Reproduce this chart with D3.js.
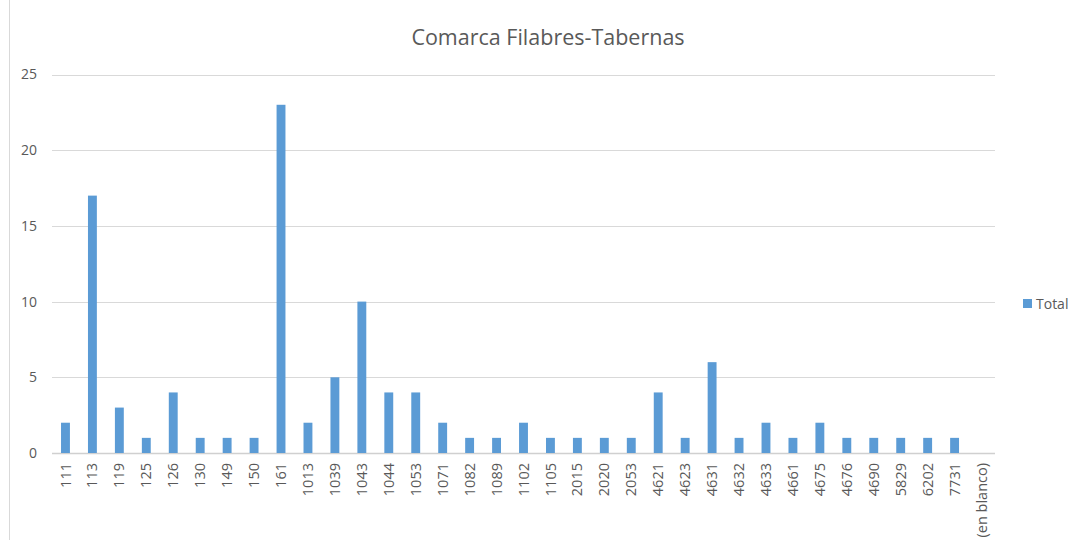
<!DOCTYPE html>
<html>
<head>
<meta charset="utf-8">
<script src="https://cdn.jsdelivr.net/npm/d3@7"></script>
<style>
  body { margin: 0; background: #fff; }
  svg { display: block; font-family: "Open Sans", "Noto Sans", sans-serif; }
</style>
</head>
<body>
<script>
const width = 1076;
const height = 540;

const categories = ["111", "113", "119", "125", "126", "130", "149", "150", "161", "1013",
  "1039", "1043", "1044", "1053", "1071", "1082", "1089", "1102", "1105", "2015",
  "2020", "2053", "4621", "4623", "4631", "4632", "4633", "4661", "4675", "4676",
  "4690", "5829", "6202", "7731", "(en blanco)"];
const totals = [2, 17, 3, 1, 4, 1, 1, 1, 23, 2,
  5, 10, 4, 4, 2, 1, 1, 2, 1, 1,
  1, 1, 4, 1, 6, 1, 2, 1, 2, 1,
  1, 1, 1, 1, null];
const yTicks = [0, 5, 10, 15, 20, 25];

const margin = {left: 52, right: 81, top: 75, bottom: 87};

const svg = d3.select("body").append("svg")
  .attr("width", width)
  .attr("height", height);

// chart area border on the left
svg.append("line")
  .attr("x1", 9.5).attr("x2", 9.5)
  .attr("y1", 0).attr("y2", height)
  .attr("stroke", "#d9d9d9");

const x = d3.scaleBand()
  .domain(categories)
  .range([margin.left, width - margin.right])
  .paddingInner(0.67)
  .paddingOuter(0.335);

const y = d3.scaleLinear()
  .domain([0, 25])
  .range([height - margin.bottom, margin.top - 0.5]);

// gridlines
svg.append("g")
  .selectAll("line")
  .data(yTicks)
  .enter()
  .append("line")
    .attr("x1", margin.left)
    .attr("x2", width - margin.right)
    .attr("y1", d => Math.round(y(d)) + 0.5)
    .attr("y2", d => Math.round(y(d)) + 0.5)
    .attr("stroke", d => d === 0 ? "#d0d0d0" : "#d9d9d9")
    .attr("stroke-width", d => d === 0 ? 1.5 : 1);

// y labels
svg.append("g")
  .selectAll("text")
  .data(yTicks)
  .enter()
  .append("text")
    .text(d => d)
    .attr("x", 37)
    .attr("y", d => y(d))
    .attr("dy", "0.35em")
    .attr("text-anchor", "end")
    .attr("font-size", 14)
    .attr("fill", "#595959");

// bars
svg.append("g")
  .selectAll("rect")
  .data(categories.map((c, i) => ({c: c, v: totals[i]})).filter(d => d.v != null))
  .enter()
  .append("rect")
    .attr("x", d => x(d.c))
    .attr("y", d => y(d.v))
    .attr("width", x.bandwidth())
    .attr("height", d => y(0) - y(d.v))
    .attr("fill", "#5b9bd5");

// x labels
svg.append("g")
  .selectAll("text")
  .data(categories)
  .enter()
  .append("text")
    .text(d => d)
    .attr("transform", d => "translate(" + (x(d) + x.bandwidth() / 2) + "," + (height - margin.bottom + 10) + ") rotate(-90)")
    .attr("dy", "0.35em")
    .attr("text-anchor", "end")
    .attr("font-size", 14.5)
    .attr("fill", "#595959");

// title
svg.append("text")
  .text("Comarca Filabres-Tabernas")
  .attr("x", 548)
  .attr("y", 45)
  .attr("text-anchor", "middle")
  .attr("font-size", 21.5)
  .attr("fill", "#595959");

// legend
svg.append("rect")
  .attr("x", 1023).attr("y", 299)
  .attr("width", 9).attr("height", 9)
  .attr("fill", "#5b9bd5");
svg.append("text")
  .text("Total")
  .attr("x", 1036)
  .attr("y", 308.5)
  .attr("font-size", 14)
  .attr("fill", "#595959");
</script>
</body>
</html>
